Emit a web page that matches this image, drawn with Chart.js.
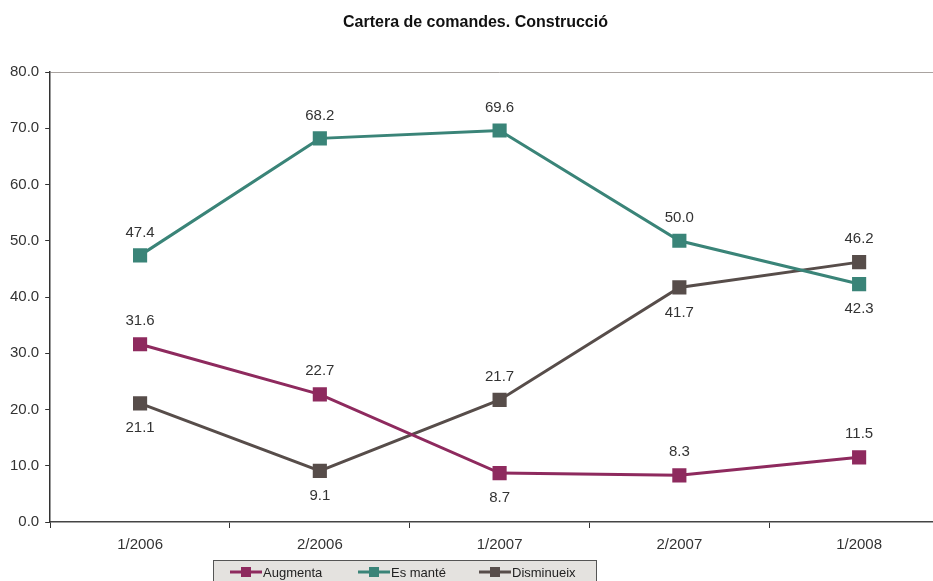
<!DOCTYPE html>
<html>
<head>
<meta charset="utf-8">
<script src="https://cdn.jsdelivr.net/npm/chart.js@4.4.1/dist/chart.umd.min.js"></script>
<style>
	html, body { margin: 0; padding: 0; background: #fff; overflow: hidden; }
	#wrap { width: 960px; height: 581px; }
</style>
</head>
<body>
<div id="wrap"><canvas id="chart" width="960" height="581"></canvas></div>
<script>
const categories = ['1/2006', '2/2006', '1/2007', '2/2007', '1/2008'];
const augmenta = [31.6, 22.7, 8.7, 8.3, 11.5];
const esMante = [47.4, 68.2, 69.6, 50.0, 42.3];
const disminueix = [21.1, 9.1, 21.7, 41.7, 46.2];

// on posar l'etiqueta de cada punt: dalt o baix
const augmentaPos = ['top', 'top', 'bottom', 'top', 'top'];
const esMantePos = ['top', 'top', 'top', 'top', 'bottom'];
const disminueixPos = ['bottom', 'bottom', 'top', 'bottom', 'top'];

const FONT = "'Liberation Sans', Arial, sans-serif";
Chart.defaults.font.family = FONT;
Chart.defaults.color = '#333';

const series = [
	{ label: 'Augmenta', data: augmenta, color: '#8e2a5e', pos: augmentaPos },
	{ label: 'Es manté', data: esMante, color: '#3a8478', pos: esMantePos },
	{ label: 'Disminueix', data: disminueix, color: '#574d4a', pos: disminueixPos },
];

// etiquetes de valor
const valueLabels = {
	id: 'valueLabels',
	afterDatasetsDraw(chart) {
		const ctx = chart.ctx;
		ctx.save();
		ctx.font = '15px ' + FONT;
		ctx.fillStyle = '#333';
		ctx.textAlign = 'center';
		ctx.textBaseline = 'middle';
		chart.data.datasets.forEach((ds, i) => {
			chart.getDatasetMeta(i).data.forEach((pt, j) => {
				const dy = ds.labelPos[j] === 'top' ? -23 : 25;
				ctx.fillText(ds.data[j].toFixed(1), pt.x, pt.y + dy);
			});
		});
		ctx.restore();
	},
};

// títol centrat a mà (el canvas és més ample que la finestra)
const titleText = {
	id: 'titleText',
	afterDraw(chart) {
		const ctx = chart.ctx;
		ctx.save();
		ctx.font = 'bold 16px ' + FONT;
		ctx.fillStyle = '#111';
		ctx.textAlign = 'center';
		ctx.textBaseline = 'middle';
		ctx.fillText('Cartera de comandes. Construcció', 475.5, 23);
		ctx.restore();
	},
};

// llegenda amb caixa grisa
const boxLegend = {
	id: 'boxLegend',
	afterDraw(chart) {
		const ctx = chart.ctx;
		ctx.save();
		ctx.fillStyle = '#e4e2df';
		ctx.strokeStyle = '#555';
		ctx.lineWidth = 1;
		ctx.fillRect(213.5, 560.5, 383, 30);
		ctx.strokeRect(213.5, 560.5, 383, 30);
		const starts = [230, 358, 479];
		ctx.font = '13px ' + FONT;
		ctx.textBaseline = 'middle';
		chart.data.datasets.forEach((ds, i) => {
			const x = starts[i];
			const y = 572;
			ctx.strokeStyle = ds.borderColor;
			ctx.lineWidth = 3;
			ctx.beginPath();
			ctx.moveTo(x, y);
			ctx.lineTo(x + 32, y);
			ctx.stroke();
			ctx.fillStyle = ds.borderColor;
			ctx.fillRect(x + 11, y - 5, 10, 10);
			ctx.fillStyle = '#222';
			ctx.fillText(ds.label, x + 33, y + 1);
		});
		ctx.restore();
	},
};

new Chart(document.getElementById('chart'), {
	type: 'line',
	data: {
		labels: categories,
		datasets: series.map((s) => ({
			label: s.label,
			data: s.data,
			labelPos: s.pos,
			borderColor: s.color,
			backgroundColor: s.color,
			borderWidth: 3,
			pointStyle: 'rect',
			pointRadius: 10,
			pointBorderWidth: 0,
			tension: 0,
		})),
	},
	plugins: [valueLabels, titleText, boxLegend],
	options: {
		responsive: false,
		animation: false,
		layout: { padding: { left: 4, right: 11, top: 72, bottom: 19 } },
		plugins: {
			legend: { display: false },
			tooltip: { enabled: false },
			title: { display: false },
		},
		scales: {
			x: {
				offset: true,
				grid: {
					offset: true,
					color: 'transparent',
					tickColor: '#333',
					tickLength: 6,
				},
				border: { color: '#444', width: 1.5 },
				ticks: { color: '#333', font: { size: 15 }, padding: 8 },
			},
			y: {
				min: 0,
				max: 80,
				grid: {
					color: (c) => (c.tick && c.tick.value === 80 ? '#a9a3a0' : 'transparent'),
					tickColor: '#333',
					tickLength: 5,
				},
				border: { color: '#333', width: 1.5 },
				ticks: {
					stepSize: 10,
					color: '#333',
					font: { size: 15 },
					padding: 6,
					callback: (v) => v.toFixed(1),
				},
			},
		},
	},
});
</script>
</body>
</html>
